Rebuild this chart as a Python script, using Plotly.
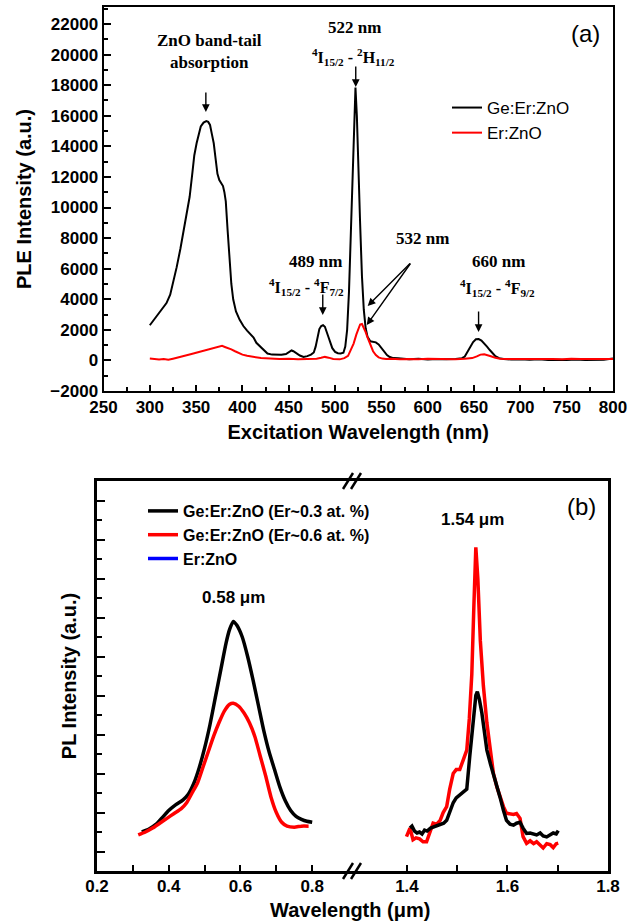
import plotly.graph_objects as go

# ---------------- Panel (a) data ----------------
ple_ge_x = [300, 305, 310, 315, 318, 322, 326, 329, 333, 336, 340, 343, 346, 348, 350.5, 353, 355, 358, 361, 363,
            365, 367, 369, 371, 373, 375, 377, 379, 380.5, 382, 384, 386, 388, 390, 393, 397, 401, 405, 409, 412,
            415, 419, 423, 427, 432, 437, 442, 447, 451, 453, 455, 458, 462, 466, 470, 474, 477, 479, 481, 483,
            485, 487, 489, 491, 493, 495, 497, 500, 503, 506, 509, 511, 513, 515, 517, 519, 520.5, 522, 523.5, 525,
            527, 529, 531, 533, 535, 538, 541, 544, 547, 550, 553, 556, 559, 563, 568, 575, 580, 590, 600, 610,
            620, 630, 637, 640, 643, 646, 649, 652, 655, 658, 661, 664, 667, 670, 673, 677, 682, 690, 700, 710,
            720, 730, 740, 750, 760, 770, 780, 790, 800]
ple_ge_y = [2300, 2700, 3100, 3500, 3750, 4300, 5300, 6100, 7300, 8300, 9500, 10700, 12300, 13400, 14200, 14800, 15300, 15550, 15650, 15600,
            15400, 14800, 14200, 13200, 12200, 11800, 11600, 11400, 11000, 10400, 8500, 6500, 5000, 4000, 3200, 2650, 2250, 1950, 1700, 1500,
            1150, 900, 650, 450, 380, 350, 370, 420, 560, 650, 600, 470, 320, 230, 280, 380, 520, 900, 1600, 2050,
            2250, 2300, 2200, 1900, 1500, 1150, 800, 560, 470, 450, 500, 900, 2000, 4500, 8000, 12000, 15500, 17850, 16000, 12500,
            9000, 5500, 3300, 2100, 1550, 1250, 1200, 1180, 1050, 800, 550, 350, 220, 150, 140, 120, 80, 110, 60, 90,
            70, 100, 150, 250, 550, 900, 1200, 1380, 1400, 1300, 1130, 900, 680, 450, 280, 150, 90, 60, 80, 40,
            70, 20, 50, 30, 60, 20, 50, 40, 120]

ple_er_x = [300, 305, 310, 315, 320, 325, 330, 335, 340, 345, 350, 355, 360, 365, 370, 375, 378, 381, 384, 388,
            392, 396, 400, 405, 410, 415, 420, 430, 440, 450, 460, 470, 480, 485, 489, 493, 498, 505, 510, 514,
            517, 520, 523, 525, 527, 529, 531, 533, 535, 537, 539, 541, 544, 547, 551, 555, 560, 570, 580, 590,
            600, 610, 620, 630, 640, 648, 653, 657, 661, 665, 669, 673, 678, 685, 695, 705, 715, 725, 735, 745,
            755, 765, 775, 785, 795, 800]
ple_er_y = [120, 80, 60, 90, 40, 110, 200, 280, 350, 420, 500, 580, 650, 750, 820, 900, 950, 880, 820, 720,
            600, 480, 380, 300, 240, 200, 160, 120, 90, 110, 70, 90, 110, 170, 230, 180, 90, 70, 150, 300,
            650, 1100, 1700, 2100, 2350, 2380, 2150, 1850, 1500, 1150, 850, 600, 350, 200, 120, 90, 110, 80, 100, 70,
            110, 90, 100, 80, 110, 150, 260, 380, 400, 350, 260, 170, 110, 90, 100, 80, 110, 90, 100, 80,
            110, 90, 100, 80, 110, 100]

# ---------------- Panel (b) data (arbitrary units) ----------------
vis_03_x = [0.325, 0.345, 0.365, 0.385, 0.40, 0.42, 0.44, 0.455, 0.47, 0.485, 0.50, 0.515, 0.53, 0.545, 0.56, 0.57, 0.58,
            0.59, 0.605, 0.62, 0.635, 0.65, 0.665, 0.68, 0.695, 0.71, 0.725, 0.74, 0.755, 0.77, 0.785, 0.80]
vis_03_y = [2.0, 2.15, 2.4, 2.8, 3.1, 3.4, 3.65, 3.95, 4.5, 5.3, 6.3, 7.5, 8.9, 10.3, 11.7, 12.4, 12.8,
            12.6, 12.0, 11.0, 9.8, 8.5, 7.2, 6.1, 5.2, 4.3, 3.6, 3.1, 2.8, 2.65, 2.55, 2.5]
vis_06_x = [0.315, 0.335, 0.355, 0.375, 0.395, 0.415, 0.435, 0.45, 0.465, 0.48, 0.495, 0.51, 0.525, 0.54, 0.555, 0.57,
            0.58, 0.595, 0.61, 0.625, 0.64, 0.655, 0.67, 0.685, 0.70, 0.715, 0.73, 0.75, 0.77, 0.79]
vis_06_y = [1.85, 2.0, 2.2, 2.45, 2.7, 2.95, 3.2, 3.5, 4.0, 4.5, 5.3, 6.1, 6.9, 7.6, 8.2, 8.55,
            8.6, 8.45, 8.1, 7.6, 6.9, 5.9, 4.9, 3.8, 3.0, 2.5, 2.3, 2.25, 2.3, 2.3]

ir_03_x = [1.406, 1.41, 1.415, 1.42, 1.425, 1.43, 1.435, 1.44, 1.447, 1.453, 1.46, 1.466, 1.473, 1.479, 1.485, 1.492,
           1.498, 1.505, 1.512, 1.519, 1.525, 1.532, 1.537, 1.540, 1.544, 1.549, 1.554, 1.559, 1.566, 1.572, 1.579,
           1.585, 1.592, 1.598, 1.605, 1.612, 1.618, 1.625, 1.631, 1.638, 1.645, 1.652, 1.658, 1.665, 1.671, 1.678,
           1.685, 1.691, 1.697, 1.701]
ir_03_y = [2.2, 2.3, 2.05, 1.95, 2.0, 1.9, 2.1, 2.05, 2.2, 2.25, 2.3, 2.35, 2.45, 2.6, 3.0, 3.5,
           3.75, 3.9, 4.1, 4.2, 5.9, 7.9, 9.0, 9.2, 8.8, 8.1, 7.1, 6.2, 5.5, 5.0, 4.4,
           3.8, 3.1, 2.6, 2.4, 2.35, 2.45, 2.5, 2.2, 1.93, 1.95, 1.9, 1.85, 1.95, 1.8, 1.75,
           1.85, 1.95, 1.9, 2.07]
ir_06_x = [1.399, 1.406, 1.412, 1.418, 1.425, 1.432, 1.439, 1.445, 1.452, 1.459, 1.466, 1.472, 1.479, 1.485, 1.492,
           1.498, 1.505, 1.512, 1.519, 1.524, 1.529, 1.533, 1.537, 1.541, 1.546, 1.552, 1.559, 1.566, 1.572, 1.579,
           1.585, 1.592, 1.598, 1.605, 1.612, 1.618, 1.625, 1.631, 1.638, 1.645, 1.652, 1.658, 1.665, 1.671, 1.678,
           1.685, 1.691, 1.697, 1.701]
ir_06_y = [1.76, 2.2, 1.6, 1.7, 1.65, 1.5, 1.5, 2.0, 2.45, 2.4, 2.6, 3.0, 3.3, 4.2, 5.0,
           5.2, 5.2, 5.7, 6.2, 7.8, 10.1, 13.5, 16.6, 15.0, 11.8, 9.5, 7.6, 6.2, 5.0, 4.3,
           3.8, 3.3, 2.96, 2.95, 2.9, 2.95, 2.7, 1.76, 1.42, 1.55, 1.4, 1.5, 1.3, 1.18, 1.4,
           1.35, 1.2, 1.4, 1.43]

er_zno_b_x = [None]
er_zno_b_y = [None]

top_xticks = [250, 300, 350, 400, 450, 500, 550, 600, 650, 700, 750, 800]
left_xticks = [0.2, 0.4, 0.6, 0.8]
right_xticks = [1.4, 1.6, 1.8]

W, H = 638, 923
def px(x): return x / W
def py(y): return 1 - y / H

SANS = "Liberation Sans, Arial, sans-serif"
SERIF = "Liberation Serif, Times New Roman, serif"
BLACK = "#000000"
RED = "#ff0000"

fig = go.Figure()
fig.add_trace(go.Scatter(x=ple_ge_x, y=ple_ge_y, mode="lines", name="Ge:Er:ZnO",
                         line=dict(color=BLACK, width=2), xaxis="x", yaxis="y", legend="legend"))
fig.add_trace(go.Scatter(x=ple_er_x, y=ple_er_y, mode="lines", name="Er:ZnO",
                         line=dict(color=RED, width=2), xaxis="x", yaxis="y", legend="legend"))

fig.add_trace(go.Scatter(x=vis_03_x, y=vis_03_y, mode="lines", name="Ge:Er:ZnO (Er~0.3 at. %)",
                         line=dict(color=BLACK, width=3.5, shape="spline", smoothing=0.6),
                         xaxis="x2", yaxis="y2", legend="legend2", legendgroup="g03"))
fig.add_trace(go.Scatter(x=vis_06_x, y=vis_06_y, mode="lines", name="Ge:Er:ZnO (Er~0.6 at. %)",
                         line=dict(color=RED, width=3.5, shape="spline", smoothing=0.6),
                         xaxis="x2", yaxis="y2", legend="legend2", legendgroup="g06"))
fig.add_trace(go.Scatter(x=er_zno_b_x, y=er_zno_b_y, mode="lines", name="Er:ZnO",
                         line=dict(color="#0000ff", width=3.5),
                         xaxis="x2", yaxis="y2", legend="legend2"))
fig.add_trace(go.Scatter(x=ir_06_x, y=ir_06_y, mode="lines", name="Ge:Er:ZnO (Er~0.6 at. %)",
                         line=dict(color=RED, width=3.5), showlegend=False,
                         xaxis="x3", yaxis="y3", legendgroup="g06"))
fig.add_trace(go.Scatter(x=ir_03_x, y=ir_03_y, mode="lines", name="Ge:Er:ZnO (Er~0.3 at. %)",
                         line=dict(color=BLACK, width=3.5), showlegend=False,
                         xaxis="x3", yaxis="y3", legendgroup="g03"))

tickfont = dict(family=SANS, size=17, color=BLACK, weight="bold")

fig.update_layout(
    width=W, height=H,
    margin=dict(l=0, r=0, t=0, b=0),
    paper_bgcolor="white", plot_bgcolor="white",
    xaxis=dict(domain=[px(103.5), px(613)], range=[250, 800], anchor="y",
               tickvals=top_xticks, ticks="inside", ticklen=6, tickwidth=1.5, tickcolor=BLACK,
               minor=dict(dtick=25, tick0=250, ticks="inside", ticklen=4, tickcolor=BLACK, tickwidth=1.5),
               showline=True, linecolor=BLACK, linewidth=2, mirror=True, showgrid=False, zeroline=False,
               tickfont=tickfont, automargin=False,
               title=dict(text="Excitation Wavelength (nm)", font=dict(family=SANS, size=20, color=BLACK, weight="bold"),
                          standoff=9)),
    yaxis=dict(domain=[py(391), py(7)], range=[-2000, 23112], anchor="x",
               tick0=-2000, dtick=2000, tickformat="d", ticks="inside", ticklen=7, tickwidth=1.5, tickcolor=BLACK,
               minor=dict(dtick=1000, ticks="inside", ticklen=4, tickcolor=BLACK, tickwidth=1.5),
               showline=True, linecolor=BLACK, linewidth=2, mirror=True, showgrid=False, zeroline=False,
               tickfont=tickfont, automargin=False,
               title=dict(text="PLE Intensity (a.u.)", font=dict(family=SANS, size=20, color=BLACK, weight="bold"),
                          standoff=13)),
    xaxis2=dict(domain=[px(97), px(352)], range=[0.2, 0.911], anchor="y2",
                tickvals=left_xticks, ticktext=[f"{v:.1f}" for v in left_xticks],
                ticks="inside", ticklen=6, tickwidth=2, tickcolor=BLACK,
                minor=dict(tickvals=[0.3, 0.5, 0.7], ticks="inside", ticklen=6, tickcolor=BLACK, tickwidth=2),
                showline=True, linecolor=BLACK, linewidth=2.5, mirror=True, showgrid=False, zeroline=False,
                tickfont=tickfont, automargin=False, ticklabelstandoff=-2),
    xaxis3=dict(domain=[px(352), px(608)], range=[1.2906, 1.8], anchor="y3",
                tickvals=right_xticks, ticktext=[f"{v:.1f}" for v in right_xticks],
                ticks="inside", ticklen=6, tickwidth=2, tickcolor=BLACK,
                minor=dict(tickvals=[1.5, 1.7], ticks="inside", ticklen=6, tickcolor=BLACK, tickwidth=2),
                showline=True, linecolor=BLACK, linewidth=2.5, mirror=True, showgrid=False, zeroline=False,
                tickfont=tickfont, automargin=False, ticklabelstandoff=-2),
    yaxis2=dict(domain=[py(871), py(481)], range=[0, 20], anchor="x2",
                tick0=1, dtick=2, ticks="inside", ticklen=8, tickwidth=2, tickcolor=BLACK,
                minor=dict(dtick=1, ticks="inside", ticklen=5, tickcolor=BLACK, tickwidth=2),
                showticklabels=False,
                showline=True, linecolor=BLACK, linewidth=2.5, mirror=False, showgrid=False, zeroline=False,
                automargin=False,
                title=dict(text="PL Intensity (a.u.)", font=dict(family=SANS, size=20, color=BLACK, weight="bold"),
                           standoff=13)),
    yaxis3=dict(domain=[py(871), py(481)], range=[0, 20], anchor="x3", side="right",
                showticklabels=False, ticks="",
                showline=True, linecolor=BLACK, linewidth=2.5, mirror=False, showgrid=False, zeroline=False,
                automargin=False),
    legend=dict(x=px(447), y=py(90), xanchor="left", yanchor="top", bgcolor="rgba(0,0,0,0)",
                font=dict(family=SANS, size=17, color=BLACK), borderwidth=0, tracegroupgap=0),
    legend2=dict(x=px(143), y=py(494), xanchor="left", yanchor="top", bgcolor="rgba(0,0,0,0)",
                 font=dict(family=SANS, size=16, color=BLACK, weight="bold"), borderwidth=0, tracegroupgap=0),
    showlegend=True,
)

ann = []
def txt(x, y, text, size=17, family=SERIF, xref="x", yref="y", weight="bold"):
    ann.append(dict(x=x, y=y, xref=xref, yref=yref, text=text, showarrow=False,
                    font=dict(family=family, size=size, color=BLACK, weight=weight),
                    xanchor="center", yanchor="middle"))

def arrow(x, y, ax, ay):
    ann.append(dict(x=x, y=y, ax=ax, ay=ay, xref="x", yref="y", axref="x", ayref="y", text="",
                    showarrow=True, arrowhead=2, arrowsize=1.1, arrowwidth=1.4, arrowcolor=BLACK, standoff=0))

# panel (a) annotations
txt(364.9, 20171, "ZnO band-tail<br>absorption")
arrow(360.5, 16247, 360.5, 17620)
txt(521.2, 21740, "522 nm")
txt(520.1, 19844, "<sup>4</sup>I<sub>15/2</sub> - <sup>2</sup>H<sub>11/2</sub>", size=16)
arrow(522.3, 17882, 522.3, 19320)
txt(479.2, 6437, "489 nm")
txt(469.5, 4802, "<sup>4</sup>I<sub>15/2</sub> - <sup>4</sup>F<sub>7/2</sub>", size=16)
arrow(486.7, 2970, 486.7, 4409)
txt(594.4, 7941, "532 nm")
arrow(535.2, 3559, 582.5, 6437)
arrow(534.2, 2316, 582.5, 6437)
txt(676.5, 6437, "660 nm")
txt(675.3, 4736, "<sup>4</sup>I<sub>15/2</sub> - <sup>4</sup>F<sub>9/2</sub>", size=16)
arrow(654.9, 1859, 654.9, 3297)
txt(770.3, 21348, "(a)", size=24, family=SANS, weight="normal")

# panel (b) annotations
txt(0.5794, 14.05, "0.58 μm", size=17, family=SANS, xref="x2", yref="y2")
txt(1.5313, 18.05, "1.54 μm", size=17, family=SANS, xref="x3", yref="y3")
txt(1.748, 18.67, "(b)", size=24, family=SANS, xref="x3", yref="y3", weight="normal")
txt(px(350), py(910), "Wavelength (μm)", size=20, family=SANS, xref="paper", yref="paper")

fig.update_layout(annotations=ann)

# axis-break marks
shapes = []
for yb in (871, 481):
    for dx in (0, 8):
        shapes.append(dict(type="line", xref="paper", yref="paper",
                           x0=px(343 + dx), y0=py(yb + 8), x1=px(353 + dx), y1=py(yb - 8),
                           line=dict(color=BLACK, width=2.5)))
fig.update_layout(shapes=shapes)

fig.write_html("out.html", config={"displayModeBar": False},
               post_script="document.body.style.margin='0px';document.body.style.overflow='hidden';")
